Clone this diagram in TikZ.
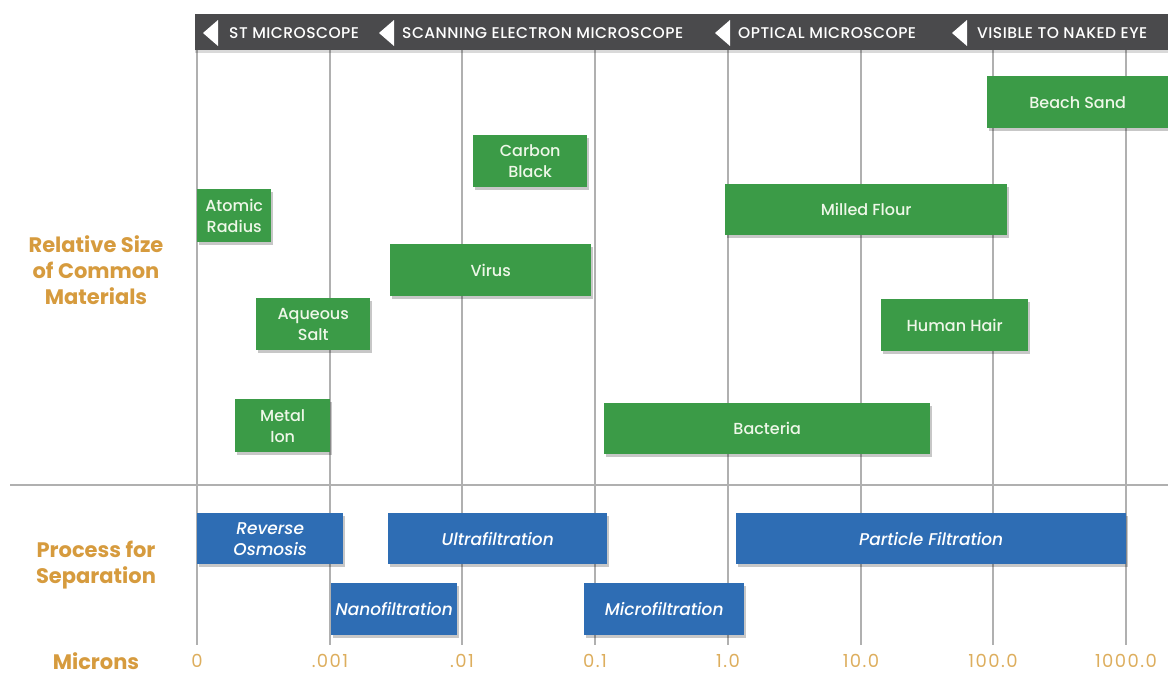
\documentclass[tikz,border=0pt]{standalone}
\usepackage{fontspec}
\setmainfont{Poppins}
\newfontfamily\pmed{Poppins}[UprightFont=* Medium, ItalicFont=* Medium Italic]
\usetikzlibrary{shadows}
\definecolor{gr}{HTML}{3B9B47}
\definecolor{bl}{HTML}{2E6DB4}
\definecolor{org}{HTML}{D69B3E}
\definecolor{axc}{HTML}{DDAE5E}
\definecolor{barc}{HTML}{4A4A4C}
\definecolor{gridc}{HTML}{B0B0B0}
\definecolor{gtext}{HTML}{EEF7E8}
\begin{document}
\begin{tikzpicture}[x=1pt,y=-1pt,
  box/.style={inner sep=0pt, align=center, anchor=north west,
    drop shadow={shadow xshift=2pt, shadow yshift=-3pt, opacity=0.22, fill=black}},
  gbox/.style={box, fill=gr, text=gtext, font=\pmed\fontsize{16}{21}\selectfont},
  bbox/.style={box, fill=bl, text=white, font=\pmed\fontsize{17}{21}\selectfont\itshape},
  bartext/.style={text=white, anchor=west, inner sep=0pt, font=\pmed\fontsize{15.5}{17}\selectfont\addfontfeatures{LetterSpace=3}},
  lbl/.style={text=org, align=center, font=\fontsize{21}{26}\selectfont\bfseries},
  axlbl/.style={text=axc, font=\fontsize{18}{20}\selectfont\addfontfeatures{LetterSpace=8}},
  gridline/.style={draw=gridc, line width=1.2pt}]
\useasboundingbox (0,0) rectangle (1168,675);

% grid
\foreach \x in {197,330,462,595,728,861,993,1126}
  \draw[gridline] (\x,50) -- (\x,645);
\draw[gridline, line width=1.6pt] (10,485) -- (1168,485);

% top bar
\fill[barc, drop shadow={shadow xshift=0pt, shadow yshift=-3pt, opacity=0.15, fill=black}] (195,14) rectangle (1168,50);
\foreach \t in {203,379,715,952}
  \fill[white] (\t+15,20) -- (\t,33) -- (\t+15,46) -- cycle;
\node[bartext] (st) at (229,33) {ST MICROSCOPE};
\node[bartext] (sem) at (402,33) {SCANNING ELECTRON MICROSCOPE};
\node[bartext] (opt) at (738,33) {OPTICAL MICROSCOPE};
\node[bartext] (eye) at (977,33) {VISIBLE TO NAKED EYE};

% materials
\node[gbox, minimum width=181pt, minimum height=52pt] (sand) at (987,76) {Beach Sand};
\node[gbox, minimum width=114pt, minimum height=52pt] (carbon) at (473,135) {Carbon\\Black};
\node[gbox, minimum width=74pt, minimum height=53pt] (atomic) at (197,189) {Atomic\\Radius};
\node[gbox, minimum width=282pt, minimum height=51pt] (flour) at (725,184) {Milled Flour};
\node[gbox, minimum width=201pt, minimum height=52pt] (virus) at (390,244) {Virus};
\node[gbox, minimum width=114pt, minimum height=52pt] (salt) at (256,298) {Aqueous\\Salt};
\node[gbox, minimum width=147pt, minimum height=52pt] (hair) at (881,299) {Human Hair};
\node[gbox, minimum width=95pt, minimum height=53pt] (metal) at (235,399) {Metal\\Ion};
\node[gbox, minimum width=326pt, minimum height=51pt] (bact) at (604,403) {Bacteria};

% processes
\node[bbox, minimum width=146pt, minimum height=51pt] (ro) at (197,513) {Reverse\\Osmosis};
\node[bbox, minimum width=219pt, minimum height=51pt] (uf) at (388,513) {Ultrafiltration};
\node[bbox, minimum width=390pt, minimum height=51pt] (pf) at (736,513) {Particle Filtration};
\node[bbox, minimum width=126pt, minimum height=52pt] (nf) at (331,583) {Nanofiltration};
\node[bbox, minimum width=160pt, minimum height=52pt] (mf) at (584,583) {Microfiltration};

% left labels
\node[lbl] (rel) at (96,270) {Relative Size\\of Common\\Materials};
\node[lbl] (proc) at (96,565) {Process for\\Separation};
\node[lbl] (mic) at (96,661) {Microns};

% axis
\node[axlbl] (a0) at (197,661) {0};
\node[axlbl] (a1) at (330,661) {.001};
\node[axlbl] (a2) at (462,661) {.01};
\node[axlbl] (a3) at (595,661) {0.1};
\node[axlbl] (a4) at (728,661) {1.0};
\node[axlbl] (a5) at (861,661) {10.0};
\node[axlbl] (a6) at (993,661) {100.0};
\node[axlbl] (a7) at (1126,661) {1000.0};
\end{tikzpicture}
\end{document}
